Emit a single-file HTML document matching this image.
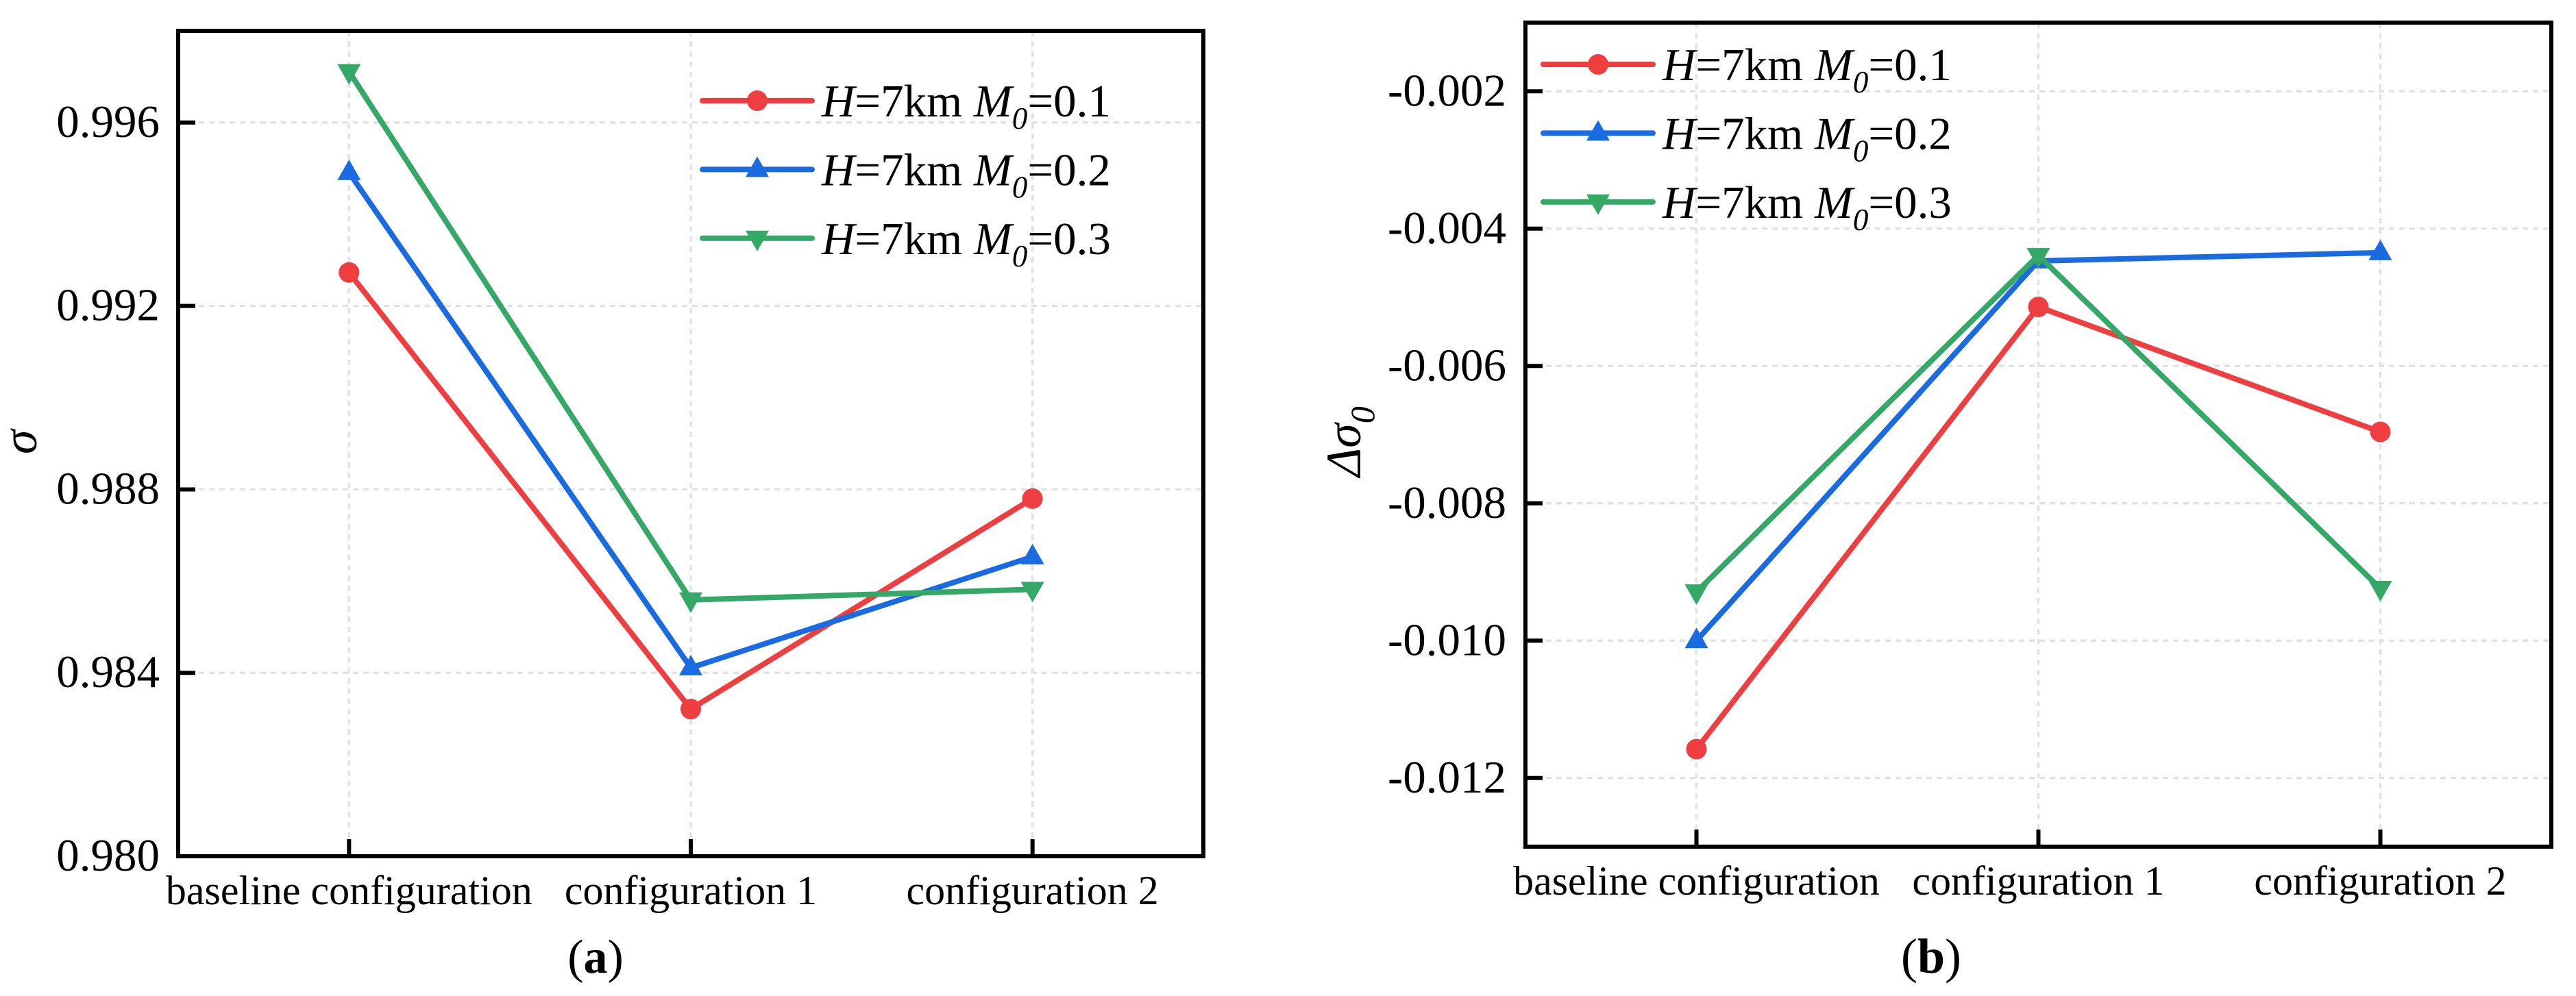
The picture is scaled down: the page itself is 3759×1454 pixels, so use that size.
<!DOCTYPE html>
<html>
<head>
<meta charset="utf-8">
<title>Sigma comparison charts</title>
<style>
html,body{margin:0;padding:0;background:#fff;}
svg{display:block;font-family:"Liberation Serif",serif;}
</style>
</head>
<body>
<svg id="figure" xmlns="http://www.w3.org/2000/svg" width="3759" height="1454" viewBox="0 0 3759 1454"></svg>
<script>
const categories = ['baseline configuration', 'configuration 1', 'configuration 2'];
const seriesNames = ['M0=0.1', 'M0=0.2', 'M0=0.3'];
const legendValues = ['0.1', '0.2', '0.3'];

const sigmaM01 = [0.99273, 0.98321, 0.98780];
const sigmaM02 = [0.99491, 0.98411, 0.98653];
const sigmaM03 = [0.99711, 0.98559, 0.98582];
const sigmaTicks = [0.996, 0.992, 0.988, 0.984, 0.980];
const sigmaTickLabels = ['0.996', '0.992', '0.988', '0.984', '0.980'];
const sigmaLimits = [0.980, 0.998];

const deltaM01 = [-0.01158, -0.00514, -0.00696];
const deltaM02 = [-0.01000, -0.00447, -0.00435];
const deltaM03 = [-0.00929, -0.00439, -0.00924];
const deltaTicks = [-0.002, -0.004, -0.006, -0.008, -0.010, -0.012];
const deltaTickLabels = ['-0.002', '-0.004', '-0.006', '-0.008', '-0.010', '-0.012'];
const deltaLimits = [-0.013, -0.001];

const NS = 'http://www.w3.org/2000/svg';
const figure = document.getElementById('figure');
const COLORS = ['#EF3E40', '#1A6BE2', '#33A867'];
const SHAPES = ['circle', 'up', 'down'];

function mk(parent, tag, attrs, text) {
  const el = document.createElementNS(NS, tag);
  for (const k in attrs) el.setAttribute(k, attrs[k]);
  if (text !== undefined) el.textContent = text;
  parent.appendChild(el);
  return el;
}

function marker(parent, shape, cx, cy, color) {
  let el;
  if (shape === 'circle') {
    el = mk(parent, 'ellipse', { cx: cx, cy: cy, rx: 15, ry: 15, fill: color });
  } else if (shape === 'up') {
    el = mk(parent, 'path', { d: 'M' + cx + ' ' + (cy - 19) + 'L' + (cx + 17) + ' ' + (cy + 11) + 'L' + (cx - 17) + ' ' + (cy + 11) + 'Z', fill: color });
  } else {
    el = mk(parent, 'path', { d: 'M' + cx + ' ' + (cy + 19) + 'L' + (cx + 17) + ' ' + (cy - 11) + 'L' + (cx - 17) + ' ' + (cy - 11) + 'Z', fill: color });
  }
  return el;
}

function drawChart(cfg) {
  const g = mk(figure, 'g', {});
  
  

  const xScale = function (i) { return cfg.left + (i + 0.5) / categories.length * (cfg.right - cfg.left); };
  const yScale = function (v) { return cfg.bottom - (v - cfg.limits[0]) / (cfg.limits[1] - cfg.limits[0]) * (cfg.bottom - cfg.top); };

  const gridG = mk(g, 'g', {});
  
  
  cfg.ticks.forEach(function (t) {
    const line = mk(gridG, 'line', { x1: cfg.left, x2: cfg.right, y1: yScale(t), y2: yScale(t), stroke: '#e2e2e2', 'stroke-width': 3.5, 'stroke-dasharray': '8 7' });
    
    
  });
  categories.forEach(function (c, i) {
    const line = mk(gridG, 'line', { x1: xScale(i), x2: xScale(i), y1: cfg.top, y2: cfg.bottom, stroke: '#e2e2e2', 'stroke-width': 3.5, 'stroke-dasharray': '8 7' });
    
    
  });

  cfg.series.forEach(function (vals, s) {
    const sg = mk(g, 'g', {});
    
    
    const pts = vals.map(function (v, i) { return xScale(i) + ',' + yScale(v); }).join(' ');
    const pl = mk(sg, 'polyline', { points: pts, fill: 'none', stroke: COLORS[s], 'stroke-width': 8, 'stroke-linejoin': 'round', 'stroke-linecap': 'round' });
    
    
    vals.forEach(function (v, i) {
      const m = marker(sg, SHAPES[s], xScale(i), yScale(v), COLORS[s]);
      
      
    });
  });

  const frame = mk(g, 'rect', { x: cfg.left, y: cfg.top, width: cfg.right - cfg.left, height: cfg.bottom - cfg.top, fill: 'none', stroke: '#000', 'stroke-width': 6 });
  
  

  cfg.ticks.forEach(function (t, i) {
    const tick = mk(g, 'line', { x1: cfg.left, x2: cfg.left + 25, y1: yScale(t), y2: yScale(t), stroke: '#000', 'stroke-width': 6 });
    
    
    const label = mk(g, 'text', { x: cfg.labelX, y: yScale(t) + 21, 'text-anchor': 'end', 'font-size': 67, fill: '#000' }, cfg.tickLabels[i]);
    
    
  });

  categories.forEach(function (c, i) {
    const tick = mk(g, 'line', { x1: xScale(i), x2: xScale(i), y1: cfg.bottom, y2: cfg.bottom - 25, stroke: '#000', 'stroke-width': 6 });
    
    
    const label = mk(g, 'text', { x: xScale(i), y: cfg.bottom + 70, 'text-anchor': 'middle', 'font-size': 60, fill: '#000' }, c);
    
    
  });

  cfg.series.forEach(function (vals, s) {
    const ly = cfg.legendY + s * 100.4;
    const lg = mk(g, 'g', {});
    
    
    mk(lg, 'line', { x1: cfg.legendX, x2: cfg.legendX + 160, y1: ly, y2: ly, stroke: COLORS[s], 'stroke-width': 8, 'stroke-linecap': 'round' });
    marker(lg, SHAPES[s], cfg.legendX + 80, ly, COLORS[s]);
    const t = mk(lg, 'text', { x: cfg.legendX + 174, y: ly + 23, 'font-size': 67, fill: '#000' });
    mk(t, 'tspan', { 'font-style': 'italic' }, 'H');
    mk(t, 'tspan', {}, '=7km ');
    mk(t, 'tspan', { 'font-style': 'italic' }, 'M');
    mk(t, 'tspan', { 'font-style': 'italic', 'font-size': 45, dy: 18 }, '0');
    mk(t, 'tspan', { dy: -18 }, '=' + legendValues[s]);
  });
}

drawChart({
  name: 'chart-a-sigma', left: 260, right: 1756, top: 45, bottom: 1250, labelX: 233,
  limits: sigmaLimits, ticks: sigmaTicks, tickLabels: sigmaTickLabels,
  series: [sigmaM01, sigmaM02, sigmaM03], legendX: 1025, legendY: 147
});
drawChart({
  name: 'chart-b-delta-sigma', left: 2226, right: 3723, top: 33, bottom: 1236, labelX: 2198,
  limits: deltaLimits, ticks: deltaTicks, tickLabels: deltaTickLabels,
  series: [deltaM01, deltaM02, deltaM03], legendX: 2252, legendY: 94
});

const yTitleA = mk(figure, 'text', { transform: 'translate(53,663) rotate(-90)', 'font-size': 72, 'font-style': 'italic', fill: '#000' }, 'σ');



const yTitleB = mk(figure, 'text', { transform: 'translate(1985,696) rotate(-90)', 'font-size': 72, 'font-style': 'italic', fill: '#000' });
mk(yTitleB, 'tspan', {}, 'Δσ');
mk(yTitleB, 'tspan', { 'font-size': 50, dy: 20 }, '0');



const capA = mk(figure, 'text', { x: 869, y: 1420, 'text-anchor': 'middle', 'font-size': 70, fill: '#000' });
mk(capA, 'tspan', {}, '(');
mk(capA, 'tspan', { 'font-weight': 'bold' }, 'a');
mk(capA, 'tspan', {}, ')');



const capB = mk(figure, 'text', { x: 2818, y: 1420, 'text-anchor': 'middle', 'font-size': 72, fill: '#000' });
mk(capB, 'tspan', {}, '(');
mk(capB, 'tspan', { 'font-weight': 'bold' }, 'b');
mk(capB, 'tspan', {}, ')');


</script>
</body>
</html>
